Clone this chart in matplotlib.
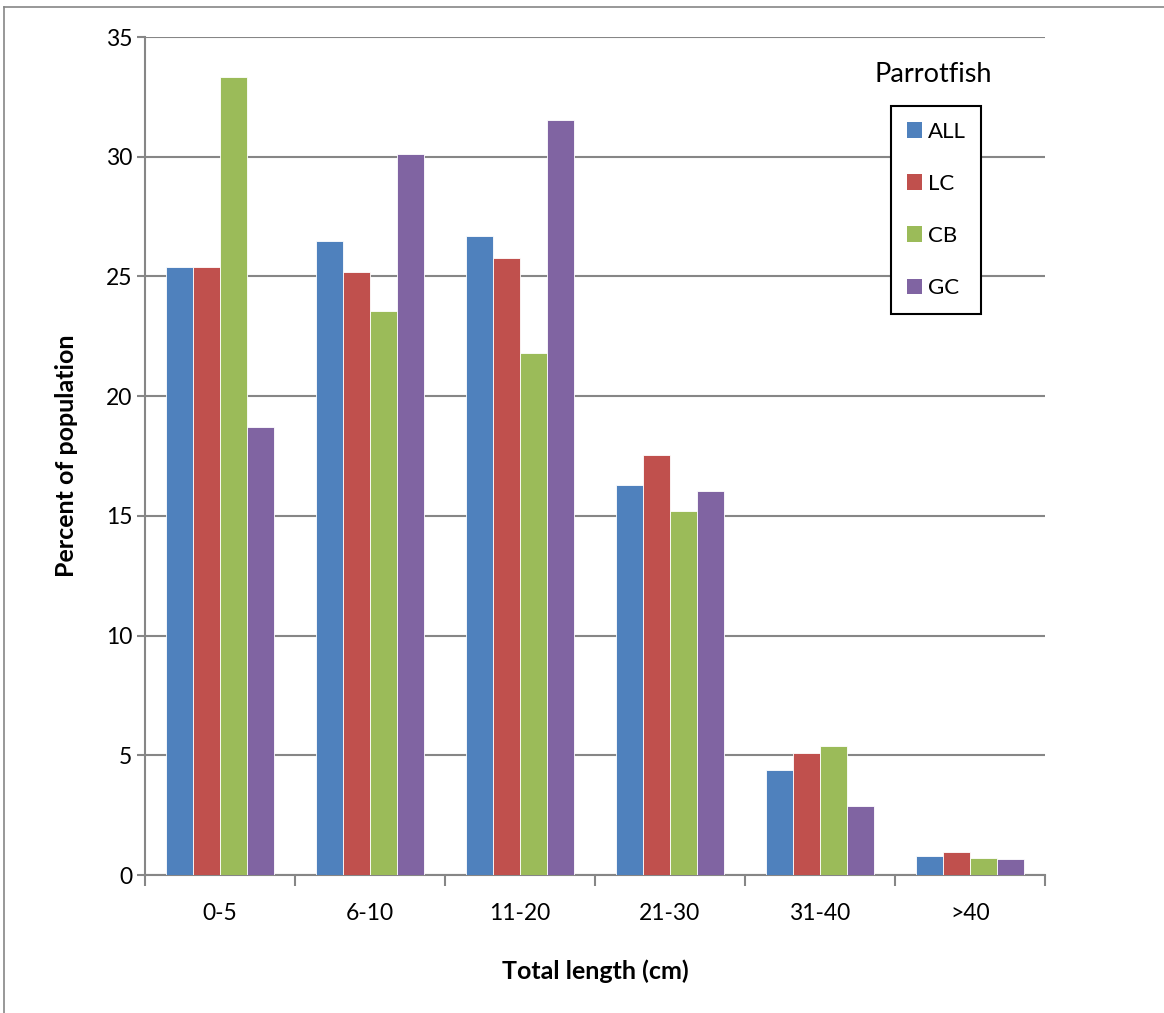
import numpy as np
import matplotlib.pyplot as plt
from matplotlib.patches import Patch
from matplotlib.lines import Line2D

# size classes (total length, cm)
categories = ["0-5", "6-10", "11-20", "21-30", "31-40", ">40"]

# percent of population per site
all_sites = [25.4, 26.5, 26.7, 16.3, 4.4, 0.8]
lc = [25.4, 25.2, 25.75, 17.55, 5.1, 0.95]
cb = [33.35, 23.55, 21.8, 15.2, 5.4, 0.73]
gc = [18.7, 30.1, 31.55, 16.05, 2.9, 0.68]

series = [("ALL", all_sites, "#4F81BD"),
          ("LC", lc, "#C0504D"),
          ("CB", cb, "#9BBB59"),
          ("GC", gc, "#8064A2")]

plt.rcParams['font.family'] = ['Lato', 'DejaVu Sans']
W, H = 1164, 1013
fig = plt.figure(figsize=(W / 100, H / 100), dpi=100)
ax = fig.add_axes([145 / W, 1 - 875 / H, 900 / W, (875 - 37) / H])

x = np.arange(len(categories))
bw = 0.18
for i, (name, vals, col) in enumerate(series):
    ax.bar(x + (i - 1.5) * bw, vals, bw, color=col, edgecolor="white",
           linewidth=0.6, zorder=3, label=name)

ax.set_xlim(-0.5, len(categories) - 0.5)
ax.set_ylim(0, 35)
ax.set_yticks(np.arange(0, 36, 5))
ax.yaxis.grid(True, color="#868686", linewidth=1.5, zorder=0)

# category boundaries as tick marks, labels at centres
ax.set_xticks(np.arange(-0.5, len(categories)), labels=[])
ax.set_xticks(x, labels=categories, minor=True)
ax.tick_params(axis="x", which="major", length=8, width=1.5, color="#868686", direction="out")
ax.tick_params(axis="x", which="minor", length=0, pad=20, labelsize=16.5)
ax.tick_params(axis="y", length=6, width=1.5, color="#868686", labelsize=16.5, pad=3)

for s in ["top", "right"]:
    ax.spines[s].set_visible(False)
for s in ["left", "bottom"]:
    ax.spines[s].set_color("#868686")
    ax.spines[s].set_linewidth(1.5)

ax.set_ylabel("Percent of population", fontsize=18, fontweight="bold", labelpad=20)
ax.set_xlabel("Total length (cm)", fontsize=18, fontweight="bold", labelpad=26)

handles = [Patch(facecolor=c, edgecolor="none") for _, _, c in series]
leg = fig.legend(handles, [n for n, _, _ in series], loc="upper left",
                 bbox_to_anchor=(891 / W, 1 - 106 / H), fontsize=16,
                 handlelength=0.7, handleheight=0.7, handletextpad=0.25,
                 labelspacing=1.45, borderpad=0.7, borderaxespad=0,
                 fancybox=False, framealpha=1, edgecolor="black")
leg.get_frame().set_linewidth(1.5)
fig.text(933 / W, 1 - 75 / H, "Parrotfish", fontsize=19.5, ha="center", va="center")

# outer chart border (left and top edges visible)
fig.add_artist(Line2D([4 / W, 4 / W], [0, 1 - 7 / H], color="#868686", linewidth=1.2))
fig.add_artist(Line2D([4 / W, 1], [1 - 7 / H, 1 - 7 / H], color="#868686", linewidth=1.2))

fig.savefig("out.png", dpi=100)
